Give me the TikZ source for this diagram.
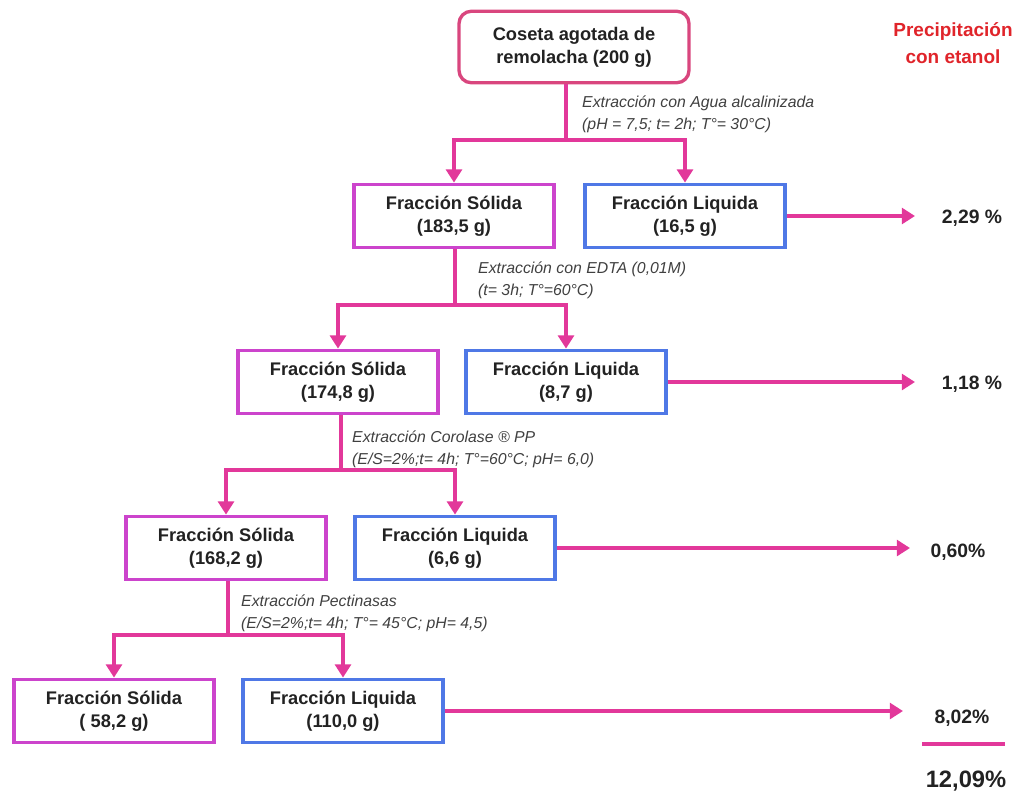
\documentclass[tikz,border=0pt]{standalone}
\usepackage{fontspec}
\setmainfont{Liberation Sans}
\usepackage{xcolor}
\usepackage{tikz}
\usetikzlibrary{arrows.meta}
\definecolor{colcoseta}{HTML}{D9467E}
\definecolor{colsolida}{HTML}{CC44CC}
\definecolor{colliquida}{HTML}{4F78E6}
\definecolor{colflecha}{HTML}{E2389A}
\definecolor{colrojo}{HTML}{E0242A}
\definecolor{texto}{HTML}{222222}
\definecolor{textocond}{HTML}{404040}

\begin{document}
\begin{tikzpicture}[x=0.02cm,y=-0.02cm,
  caja/.style={draw, line width=1.9pt, minimum width=4.0cm, minimum height=1.27cm, align=center, text=texto, font=\fontsize{10.4}{13}\selectfont\bfseries},
  solida/.style={caja, draw=colsolida},
  liquida/.style={caja, draw=colliquida},
  linea/.style={colflecha, line width=1.9pt},
  flecha/.style={linea, -{Triangle[length=7.5pt,width=9pt]}},
  cond/.style={anchor=west, align=left, text=textocond, font=\fontsize{9}{12.5}\selectfont\itshape},
  pct/.style={text=texto, font=\fontsize{11}{13}\selectfont\bfseries}]
\useasboundingbox (0,0) rectangle (1030,799);

\node[caja, draw=colcoseta, rounded corners=7pt, minimum width=4.6cm, minimum height=1.43cm] (top) at (574,47) {Coseta agotada de\\remolacha (200 g)};
\node[text=colrojo, align=center, font=\fontsize{10.8}{15}\selectfont\bfseries] (precip) at (953,43) {Precipitación\\con etanol};

\node[solida] (s1) at (454,216) {Fracción Sólida\\(183,5 g)};
\node[liquida] (l1) at (685,216) {Fracción Liquida\\(16,5 g)};
\node[solida] (s2) at (338,382) {Fracción Sólida\\(174,8 g)};
\node[liquida] (l2) at (566,382) {Fracción Liquida\\(8,7 g)};
\node[solida] (s3) at (226,548) {Fracción Sólida\\(168,2 g)};
\node[liquida] (l3) at (455,548) {Fracción Liquida\\(6,6 g)};
\node[solida] (s4) at (114,711) {Fracción Sólida\\( 58,2 g)};
\node[liquida] (l4) at (343,711) {Fracción Liquida\\(110,0 g)};

% condiciones de cada extraccion
\node[cond] (c1) at (576,114) {Extracción con Agua alcalinizada\\(pH = 7,5; t= 2h; T°= 30°C)};
\node[cond] (c2) at (472,280) {Extracción con EDTA (0,01M)\\(t= 3h; T°=60°C)};
\node[cond] (c3) at (346,449) {Extracción Corolase ® PP\\(E/S=2\%;t= 4h; T°=60°C; pH= 6,0)};
\node[cond] (c4) at (235,613) {Extracción Pectinasas\\(E/S=2\%;t= 4h; T°= 45°C; pH= 4,5)};

% ramificaciones
\coordinate (j0) at (566,140);
\coordinate (j1) at (455,305);
\coordinate (j2) at (341,470);
\coordinate (j3) at (228,635);
\draw[linea] (top.south -| j0) -- (j0);
\draw[flecha] (j0) -| (s1.north);
\draw[flecha] (j0) -| (l1.north);
\draw[linea] (s1.south -| j1) -- (j1);
\draw[flecha] (j1) -| (s2.north);
\draw[flecha] (j1) -| (l2.north);
\draw[linea] (s2.south -| j2) -- (j2);
\draw[flecha] (j2) -| (s3.north);
\draw[flecha] (j2) -| (l3.north);
\draw[linea] (s3.south -| j3) -- (j3);
\draw[flecha] (j3) -| (s4.north);
\draw[flecha] (j3) -| (l4.north);

% rendimientos
\node[pct] (p1) at (972,218) {2,29 \%};
\node[pct] (p2) at (972,384) {1,18 \%};
\node[pct] (p3) at (958,552) {0,60\%};
\node[pct] (p4) at (962,718) {8,02\%};
\node[text=texto, font=\fontsize{13.5}{15}\selectfont\bfseries] (total) at (966,781) {12,09\%};
\coordinate (t1) at (915,216);
\coordinate (t2) at (915,382);
\coordinate (t3) at (910,548);
\coordinate (t4) at (903,711);
\draw[flecha] (l1.east) -- (t1);
\draw[flecha] (l2.east) -- (t2);
\draw[flecha] (l3.east) -- (t3);
\draw[flecha] (l4.east) -- (t4);
\draw[linea] (922,744) -- (1005,744);

\end{tikzpicture}
\end{document}
